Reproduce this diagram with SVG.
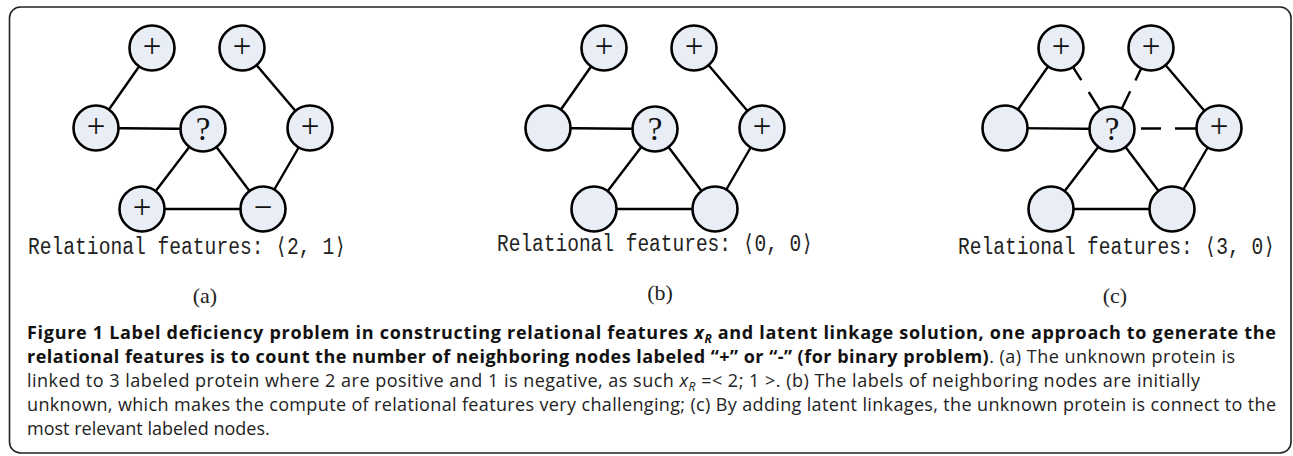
<svg xmlns="http://www.w3.org/2000/svg" width="1293" height="456" viewBox="0 0 1293 456">
<style>
.frame{fill:#fff;stroke:#222;stroke-width:1.6}
.edge{stroke:#000;stroke-width:2.4;fill:none}
.node circle{fill:#e9eef6;stroke:#000;stroke-width:2.6}
.sym{font-family:"Liberation Serif",serif;font-size:33px;fill:#111;text-anchor:middle}
.rf{font-family:"Liberation Mono",monospace;font-size:23.5px;fill:#222}
.pl{font-family:"Liberation Serif",serif;font-size:22px;fill:#222;text-anchor:middle}
.cap{font-family:"Open Sans",sans-serif;font-size:18px;fill:#222}
.b{font-weight:bold;fill:#111}
</style>
<rect class="frame" x="9.5" y="7" width="1281.5" height="446" rx="11"/>

<g id="connectors">
  <path class="edge" d="M152,48 L96,128 M96,128 L203,129 M203,129 L142,209 M203,129 L263,209 M142,209 L263,209 M263,209 L310,128 M310,128 L242,48"/>
  <path class="edge" d="M604,48 L548,128 M548,128 L655,129 M655,129 L594,209 M655,129 L715,209 M594,209 L715,209 M715,209 L762,128 M762,128 L694,48"/>
  <path class="edge" d="M1061,48 L1005,128 M1005,128 L1112,129 M1112,129 L1051,209 M1112,129 L1172,209 M1051,209 L1172,209 M1172,209 L1219,128 M1219,128 L1151,48"/>
  <path class="edge" d="M1072.7,66.6 L1081.3,80.2 M1088.7,92 L1100.3,110.4"/>
  <path class="edge" d="M1141.5,67.8 L1135.4,80.4 M1130.2,91.2 L1121.5,109.2"/>
  <path class="edge" d="M1141,128.5 H1161 M1175,128.5 H1197"/>
</g>

<g id="a-tl" class="node"><circle cx="152" cy="48" r="22.5"/><text class="sym" x="152" y="57">+</text></g>
<g id="a-tr" class="node"><circle cx="242" cy="48" r="22.5"/><text class="sym" x="242" y="57">+</text></g>
<g id="a-l" class="node"><circle cx="96" cy="128" r="22.5"/><text class="sym" x="96" y="137">+</text></g>
<g id="a-q" class="node"><circle cx="203" cy="129" r="22.5"/><text class="sym" x="203" y="140">?</text></g>
<g id="a-r" class="node"><circle cx="310" cy="128" r="22.5"/><text class="sym" x="310" y="137">+</text></g>
<g id="a-bl" class="node"><circle cx="142" cy="209" r="22.5"/><text class="sym" x="142" y="218">+</text></g>
<g id="a-br" class="node"><circle cx="263" cy="209" r="22.5"/><text class="sym" x="263" y="218">−</text></g>

<g id="b-tl" class="node"><circle cx="604" cy="48" r="22.5"/><text class="sym" x="604" y="57">+</text></g>
<g id="b-tr" class="node"><circle cx="694" cy="48" r="22.5"/><text class="sym" x="694" y="57">+</text></g>
<g id="b-l" class="node"><circle cx="548" cy="128" r="22.5"/></g>
<g id="b-q" class="node"><circle cx="655" cy="129" r="22.5"/><text class="sym" x="655" y="140">?</text></g>
<g id="b-r" class="node"><circle cx="762" cy="128" r="22.5"/><text class="sym" x="762" y="137">+</text></g>
<g id="b-bl" class="node"><circle cx="594" cy="209" r="22.5"/></g>
<g id="b-br" class="node"><circle cx="715" cy="209" r="22.5"/></g>

<g id="c-tl" class="node"><circle cx="1061" cy="48" r="22.5"/><text class="sym" x="1061" y="57">+</text></g>
<g id="c-tr" class="node"><circle cx="1151" cy="48" r="22.5"/><text class="sym" x="1151" y="57">+</text></g>
<g id="c-l" class="node"><circle cx="1005" cy="128" r="22.5"/></g>
<g id="c-q" class="node"><circle cx="1112" cy="129" r="22.5"/><text class="sym" x="1112" y="140">?</text></g>
<g id="c-r" class="node"><circle cx="1219" cy="128" r="22.5"/><text class="sym" x="1219" y="137">+</text></g>
<g id="c-bl" class="node"><circle cx="1051" cy="209" r="22.5"/></g>
<g id="c-br" class="node"><circle cx="1172" cy="209" r="22.5"/></g>

<g id="labels">
  <text class="rf" x="28" y="254" textLength="318" lengthAdjust="spacingAndGlyphs">Relational features: ⟨2, 1⟩</text>
  <text class="rf" x="497" y="251" textLength="316" lengthAdjust="spacingAndGlyphs">Relational features: ⟨0, 0⟩</text>
  <text class="rf" x="958" y="254" textLength="317" lengthAdjust="spacingAndGlyphs">Relational features: ⟨3, 0⟩</text>
  <text class="pl" x="205" y="303">(a)</text>
  <text class="pl" x="660" y="300">(b)</text>
  <text class="pl" x="1115" y="303">(c)</text>
</g>

<g id="caption">
  <text class="cap b" x="27" y="339" textLength="1249" lengthAdjust="spacing">Figure 1 Label deficiency problem in constructing relational features <tspan font-style="italic">x<tspan font-size="12" baseline-shift="-4">R</tspan></tspan> and latent linkage solution, one approach to generate the</text>
  <text class="cap" x="27" y="363" textLength="1208" lengthAdjust="spacing"><tspan class="b">relational features is to count the number of neighboring nodes labeled “+” or “-” (for binary problem)</tspan>. (a) The unknown protein is</text>
  <text class="cap" x="27" y="387" textLength="1173" lengthAdjust="spacing">linked to 3 labeled protein where 2 are positive and 1 is negative, as such <tspan font-style="italic">x<tspan font-size="12" baseline-shift="-4">R</tspan></tspan> =&lt; 2; 1 &gt;. (b) The labels of neighboring nodes are initially</text>
  <text class="cap" x="27" y="411" textLength="1249" lengthAdjust="spacing">unknown, which makes the compute of relational features very challenging; (c) By adding latent linkages, the unknown protein is connect to the</text>
  <text class="cap" x="27" y="435">most relevant labeled nodes.</text>
</g>
</svg>
